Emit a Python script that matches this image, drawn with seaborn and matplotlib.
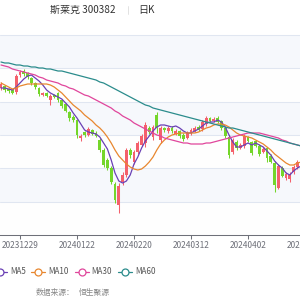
import numpy as np
import pandas as pd
import matplotlib
matplotlib.use("Agg")
import matplotlib.pyplot as plt
import seaborn as sns
from matplotlib.lines import Line2D

dates = ["20231222", "20231225", "20231226", "20231227", "20231228", "20231229",
         "20240102", "20240103", "20240104", "20240105", "20240108", "20240109",
         "20240110", "20240111", "20240112", "20240115", "20240116", "20240117",
         "20240118", "20240119", "20240122", "20240123", "20240124", "20240125",
         "20240126", "20240129", "20240130", "20240131", "20240201", "20240202",
         "20240205", "20240206", "20240207", "20240208", "20240219", "20240220",
         "20240221", "20240222", "20240223", "20240226", "20240227", "20240228",
         "20240229", "20240301", "20240304", "20240305", "20240306", "20240307",
         "20240308", "20240311", "20240312", "20240313", "20240314", "20240315",
         "20240318", "20240319", "20240320", "20240321", "20240322", "20240325",
         "20240326", "20240327", "20240328", "20240329", "20240401", "20240402",
         "20240403", "20240408", "20240409", "20240410", "20240411", "20240412",
         "20240415", "20240416", "20240417", "20240418", "20240419", "20240422",
         "20240423", "20240424"]

open_ = [13.41, 13.47, 13.38, 13.35, 13.29, 13.80, 13.92, 13.86, 13.71, 13.56,
         13.41, 13.20, 13.26, 13.05, 13.20, 13.26, 13.05, 12.93, 12.69, 12.54,
         12.45, 11.91, 12.09, 12.00, 12.15, 12.06, 11.85, 11.55, 11.25, 11.01,
         10.53, 9.90, 10.59, 10.80, 11.55, 11.19, 11.49, 11.70, 11.76, 12.21,
         11.94, 12.60, 11.85, 12.21, 12.12, 12.21, 12.03, 12.12, 12.00, 11.91,
         12.06, 12.12, 12.24, 12.18, 12.33, 12.51, 12.42, 12.51, 12.42, 12.21,
         11.94, 11.49, 11.79, 11.61, 11.67, 11.94, 11.79, 11.82, 11.67, 11.49,
         11.61, 11.37, 11.16, 10.41, 11.01, 10.71, 10.68, 10.89, 11.04, 11.16]
close = [13.53, 13.35, 13.32, 13.26, 13.77, 13.89, 13.83, 13.74, 13.56, 13.44,
         13.23, 13.26, 13.17, 13.17, 13.14, 13.05, 12.87, 12.72, 12.51, 12.45,
         12.00, 11.97, 12.00, 12.18, 12.03, 11.97, 11.55, 11.10, 11.01, 10.59,
         10.05, 10.47, 10.80, 11.55, 11.40, 11.49, 11.76, 11.97, 12.30, 12.09,
         12.24, 12.21, 12.21, 12.15, 12.21, 12.12, 12.12, 11.97, 11.88, 12.06,
         12.15, 12.21, 12.15, 12.39, 12.51, 12.42, 12.48, 12.39, 12.21, 11.97,
         11.40, 11.85, 11.61, 11.70, 11.97, 11.82, 11.46, 11.67, 11.43, 11.58,
         11.31, 11.19, 10.50, 11.07, 10.77, 10.83, 10.80, 11.04, 11.19, 11.25]
high = [13.59, 13.50, 13.41, 13.38, 13.83, 13.95, 13.98, 13.89, 13.74, 13.59,
        13.44, 13.29, 13.29, 13.23, 13.23, 13.29, 13.08, 12.96, 12.72, 12.60,
        12.48, 12.03, 12.12, 12.24, 12.18, 12.12, 11.91, 11.61, 11.31, 11.07,
        10.59, 10.56, 10.89, 11.61, 11.61, 11.55, 11.82, 12.03, 12.39, 12.27,
        12.30, 12.69, 12.27, 12.24, 12.27, 12.27, 12.18, 12.15, 12.06, 12.12,
        12.21, 12.27, 12.30, 12.45, 12.57, 12.54, 12.54, 12.57, 12.45, 12.24,
        12.00, 11.91, 11.85, 11.76, 12.03, 11.97, 11.82, 11.85, 11.73, 11.64,
        11.64, 11.43, 11.22, 11.13, 11.07, 10.89, 10.89, 11.10, 11.25, 11.31]
low = [13.35, 13.29, 13.26, 13.23, 13.23, 13.74, 13.77, 13.68, 13.50, 13.38,
       13.17, 13.17, 13.14, 12.90, 13.11, 12.99, 12.81, 12.69, 12.42, 12.39,
       11.91, 11.82, 11.94, 11.97, 12.00, 11.94, 11.49, 11.04, 10.95, 10.53,
       9.96, 9.66, 10.50, 10.74, 11.31, 11.13, 11.43, 11.67, 11.64, 12.03,
       11.85, 12.06, 11.76, 12.09, 12.06, 12.06, 12.00, 11.91, 11.82, 11.88,
       12.00, 12.09, 12.12, 12.12, 12.27, 12.39, 12.39, 12.36, 12.15, 11.91,
       11.31, 11.43, 11.55, 11.58, 11.61, 11.79, 11.40, 11.64, 11.37, 11.46,
       11.19, 11.16, 10.29, 10.38, 10.74, 10.65, 10.59, 10.83, 10.98, 11.10]

ma5 = [13.41, 13.41, 13.38, 13.35, 13.44, 13.56, 13.68, 13.77, 13.80, 13.71,
       13.62, 13.50, 13.35, 13.26, 13.20, 13.14, 13.08, 12.96, 12.84, 12.66,
       12.51, 12.33, 12.15, 12.09, 12.06, 12.03, 11.94, 11.76, 11.58, 11.25,
       10.86, 10.62, 10.56, 10.62, 10.80, 11.13, 11.34, 11.61, 11.82, 11.97,
       12.12, 12.24, 12.30, 12.30, 12.27, 12.24, 12.27, 12.21, 12.12, 12.06,
       12.06, 12.12, 12.18, 12.27, 12.36, 12.39, 12.39, 12.45, 12.39, 12.24,
       12.00, 11.79, 11.64, 11.64, 11.70, 11.76, 11.70, 11.76, 11.70, 11.64,
       11.52, 11.40, 11.22, 11.10, 11.01, 10.86, 10.80, 10.92, 11.01, 11.07]
ma10 = [13.56, 13.50, 13.44, 13.38, 13.41, 13.47, 13.50, 13.53, 13.53, 13.53,
        13.53, 13.53, 13.53, 13.50, 13.44, 13.35, 13.26, 13.14, 13.02, 12.90,
        12.81, 12.72, 12.60, 12.51, 12.42, 12.30, 12.21, 12.09, 11.94, 11.76,
        11.55, 11.37, 11.25, 11.13, 11.04, 10.98, 10.95, 10.98, 11.07, 11.19,
        11.34, 11.55, 11.73, 11.85, 11.94, 12.00, 12.03, 12.06, 12.06, 12.06,
        12.06, 12.06, 12.09, 12.15, 12.21, 12.24, 12.30, 12.33, 12.33, 12.30,
        12.24, 12.15, 12.06, 12.00, 11.97, 11.94, 11.91, 11.85, 11.79, 11.73,
        11.64, 11.55, 11.43, 11.34, 11.25, 11.16, 11.10, 11.10, 11.16, 11.19]
ma30 = [14.10, 14.07, 14.04, 13.98, 13.95, 13.92, 13.89, 13.86, 13.83, 13.80,
        13.74, 13.71, 13.65, 13.62, 13.59, 13.56, 13.50, 13.47, 13.41, 13.38,
        13.32, 13.26, 13.20, 13.17, 13.11, 13.05, 12.99, 12.93, 12.87, 12.81,
        12.72, 12.66, 12.57, 12.51, 12.45, 12.36, 12.30, 12.24, 12.18, 12.12,
        12.06, 12.00, 11.97, 11.91, 11.88, 11.85, 11.82, 11.79, 11.76, 11.76,
        11.73, 11.73, 11.73, 11.73, 11.76, 11.76, 11.79, 11.82, 11.85, 11.88,
        11.91, 11.94, 11.97, 12.00, 12.03, 12.06, 12.06, 12.06, 12.06, 12.03,
        12.00, 11.97, 11.94, 11.91, 11.85, 11.82, 11.76, 11.73, 11.70, 11.67]
ma60 = [14.19, 14.16, 14.16, 14.13, 14.10, 14.10, 14.07, 14.07, 14.04, 14.04,
        14.01, 14.01, 13.98, 13.98, 13.95, 13.92, 13.92, 13.89, 13.86, 13.83,
        13.80, 13.77, 13.74, 13.71, 13.68, 13.65, 13.59, 13.56, 13.50, 13.44,
        13.38, 13.32, 13.26, 13.20, 13.14, 13.08, 13.02, 12.96, 12.90, 12.87,
        12.81, 12.78, 12.75, 12.72, 12.69, 12.66, 12.63, 12.60, 12.57, 12.54,
        12.51, 12.48, 12.45, 12.42, 12.39, 12.36, 12.33, 12.30, 12.27, 12.24,
        12.21, 12.21, 12.18, 12.15, 12.12, 12.09, 12.06, 12.03, 12.00, 11.97,
        11.94, 11.91, 11.88, 11.85, 11.82, 11.79, 11.76, 11.73, 11.70, 11.67]

tick_labels = ["20231229", "20240122", "20240220", "20240312", "20240402", "20240425"]
ma_names = ["MA5", "MA10", "MA30", "MA60"]
ma_colors = ["#6a40b5", "#e8872f", "#e0469c", "#2b8c8c"]
title_name = "斯莱克 300382"
title_period = "日K"
source_label = "数据来源："
source_name = "恒生聚源"

RED = "#f4606c"
GREEN = "#74d62a"

sns.set_theme(style="white")
plt.rcParams['font.family'] = ['Noto Sans CJK SC', 'DejaVu Sans']

fig = plt.figure(figsize=(3, 3), dpi=100)
fig.patch.set_facecolor("white")
ax = fig.add_axes([0, 65 / 300, 1, 200 / 300])
ax.set_facecolor("white")
ax.set_xlim(-0.263, 78.68)
ax.set_ylim(9, 15)

# background split areas and split lines
for lo in range(9, 15):
    col = "#f6f8fc" if (lo - 9) % 2 == 1 else "#fefefe"
    ax.axhspan(lo, lo + 1, color=col, lw=0, zorder=0)
for v in range(10, 16):
    ax.axhline(v, color="#e0e6f1", lw=0.75, zorder=0.5, clip_on=False)

# candles
x = np.arange(len(dates))
o = np.array(open_)
c = np.array(close)
h = np.array(high)
l = np.array(low)
cols = np.where(c >= o, RED, GREEN)
ax.vlines(x, l, h, colors=cols, lw=0.75, zorder=2)
ax.bar(x, np.maximum(np.abs(c - o), 0.02), bottom=np.minimum(o, c), width=0.7,
       color=cols, linewidth=0, zorder=3)

# moving averages
ma_df = pd.DataFrame({
    "idx": np.tile(x, 4),
    "value": ma5 + ma10 + ma30 + ma60,
    "name": np.repeat(ma_names, len(x)),
})
sns.lineplot(data=ma_df, x="idx", y="value", hue="name", hue_order=ma_names,
             palette=dict(zip(ma_names, ma_colors)), ax=ax, legend=False,
             lw=0.9, zorder=4, sort=False, estimator=None)
ax.set_xlabel("")
ax.set_ylabel("")

# axes styling
for s in ["left", "right", "top"]:
    ax.spines[s].set_visible(False)
ax.spines["bottom"].set_color("#6e7079")
ax.spines["bottom"].set_linewidth(0.75)
ax.set_yticks([])
pos = [dates.index(t) if t in dates else len(dates) for t in tick_labels]
ax.set_xticks(pos[:-1])
ax.set_xticklabels(tick_labels[:-1])
ax.tick_params(axis="x", bottom=True, length=3, width=0.75, color="#6e7079",
               labelsize=6, labelcolor="#6e7079", pad=1.5, direction="out")
ax.annotate(tick_labels[-1], xy=(pos[-1], 9), xycoords="data", xytext=(0, -4.5),
            textcoords="offset points", ha="center", va="top", fontsize=6,
            color="#6e7079", annotation_clip=False)

# title
fig.text(50 / 300, 1 - 10 / 300, title_name, fontsize=7.2, color="#333333",
         ha="left", va="center")
fig.add_artist(Line2D([128 / 300, 128 / 300], [1 - 6 / 300, 1 - 14 / 300],
                      transform=fig.transFigure, color="#dddddd", lw=0.6))
fig.text(138 / 300, 1 - 10 / 300, title_period, fontsize=7.2, color="#333333",
         ha="left", va="center")

# legend
ly = 1 - 272 / 300
centers = [0, 38, 81.5, 125]
for name, colr, cx in zip(ma_names, ma_colors, centers):
    fig.add_artist(Line2D([(cx - 7) / 300, (cx + 7) / 300], [ly, ly],
                          transform=fig.transFigure, color=colr, lw=0.9))
    fig.add_artist(Line2D([cx / 300], [ly], transform=fig.transFigure,
                          marker="o", markersize=5, markerfacecolor="white",
                          markeredgecolor=colr, markeredgewidth=0.9, lw=0))
    fig.text((cx + 10) / 300, ly, name, fontsize=5.8, color="#555555",
             ha="left", va="center")

# footer
fy = 1 - 293 / 300
fig.text(36 / 300, fy, source_label, fontsize=5.6, color="#888888", ha="left", va="center")
fig.text(79 / 300, fy, source_name, fontsize=5.6, color="#888888", ha="left", va="center")

fig.savefig("out.png", dpi=100)
